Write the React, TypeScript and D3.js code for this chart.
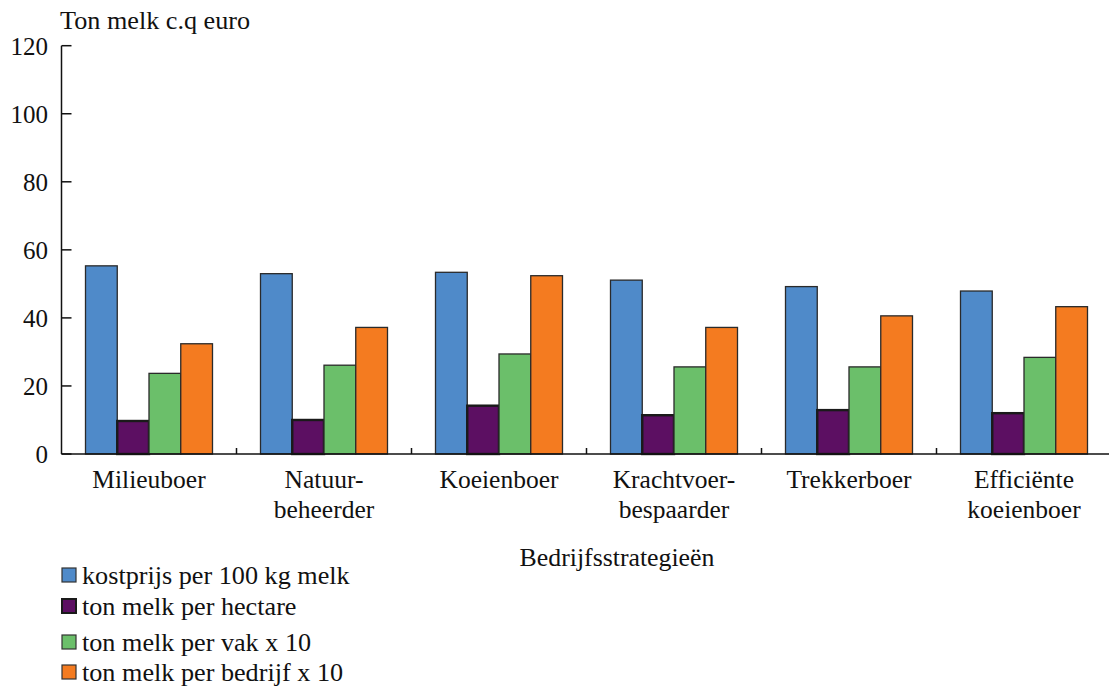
import React from "react";
import * as d3 from "d3";

// Bedrijfsstrategieën en hun kengetallen
const categories: string[][] = [
  ["Milieuboer"],
  ["Natuur-", "beheerder"],
  ["Koeienboer"],
  ["Krachtvoer-", "bespaarder"],
  ["Trekkerboer"],
  ["Efficiënte", "koeienboer"],
];

const seriesNames = [
  "kostprijs per 100 kg melk",
  "ton melk per hectare",
  "ton melk per vak x 10",
  "ton melk per bedrijf x 10",
];

const kostprijs = [55.3, 53.0, 53.4, 51.1, 49.2, 47.9];
const tonPerHectare = [9.7, 10.0, 14.2, 11.4, 12.9, 12.0];
const tonPerVak = [23.7, 26.1, 29.4, 25.6, 25.6, 28.4];
const tonPerBedrijf = [32.4, 37.2, 52.4, 37.2, 40.6, 43.3];

const yTicks = [0, 20, 40, 60, 80, 100, 120];

const colors = ["#4f8ac9", "#5c0f62", "#6bbf6a", "#f47b20"];

const W = 1109;
const H = 689;
const FONT =
  '"Liberation Serif", "DejaVu Serif", "Noto Serif", "FreeSerif", "Nimbus Roman", "Times New Roman", Times, serif';

export default function App() {
  const series = [kostprijs, tonPerHectare, tonPerVak, tonPerBedrijf];
  const x0 = 61.5;
  const bandW = 175;

  const x = d3
    .scaleBand<number>()
    .domain(d3.range(categories.length))
    .range([x0, x0 + bandW * categories.length])
    .paddingInner(0)
    .paddingOuter(0);

  const xInner = d3
    .scaleBand<number>()
    .domain(d3.range(series.length))
    .range([24, bandW - 24])
    .padding(0);

  const y = d3.scaleLinear().domain([0, 120]).range([454, 45.7]);

  return (
    <svg
      width={W}
      height={H}
      style={{ position: "absolute", left: 0, top: 0, background: "#fff", fontFamily: FONT }}
    >
      {/* titel van de y-as */}
      <text x={60} y={29} fontSize={26.2} fill="#111">
        Ton melk c.q euro
      </text>

      {/* staven */}
      {categories.map((_, ci) => (
        <g key={ci} transform={`translate(${x(ci)},0)`}>
          {series.map((vals, si) => {
            const v = vals[ci];
            const isPurple = si === 1;
            return (
              <rect
                key={si}
                x={xInner(si)}
                y={y(v)}
                width={xInner.bandwidth()}
                height={y(0) - y(v)}
                fill={colors[si]}
                stroke={isPurple ? "#1a1a1a" : "#2a2a2a"}
                strokeWidth={isPurple ? 2.4 : 1.3}
              />
            );
          })}
        </g>
      ))}

      {/* y-as */}
      <line x1={x0} x2={x0} y1={y(120)} y2={y(0)} stroke="#111" strokeWidth={1.5} />
      {yTicks.map((t) => (
        <g key={t}>
          <line x1={x0} x2={x0 + 10} y1={y(t)} y2={y(t)} stroke="#111" strokeWidth={1.5} />
          <text x={48} y={y(t) + 9} fontSize={25} textAnchor="end" fill="#111">
            {t}
          </text>
        </g>
      ))}

      {/* x-as */}
      <line x1={x0} x2={W} y1={y(0)} y2={y(0)} stroke="#111" strokeWidth={1.5} />
      {categories.slice(1).map((_, i) => {
        const bx = x(i + 1)!;
        return (
          <line key={i} x1={bx} x2={bx} y1={y(0)} y2={y(0) - 6} stroke="#111" strokeWidth={1.5} />
        );
      })}

      {/* categorielabels */}
      {categories.map((lines, ci) => (
        <text
          key={ci}
          x={x(ci)! + x.bandwidth() / 2}
          y={488}
          fontSize={25.5}
          textAnchor="middle"
          fill="#111"
        >
          {lines.map((l, li) => (
            <tspan key={li} x={x(ci)! + x.bandwidth() / 2} dy={li === 0 ? 0 : 29.5}>
              {l}
            </tspan>
          ))}
        </text>
      ))}

      {/* titel van de x-as */}
      <text x={617} y={566} fontSize={25.8} textAnchor="middle" fill="#111">
        Bedrijfsstrategieën
      </text>

      {/* legenda */}
      {seriesNames.map((name, i) => {
        const baselines = [584, 615, 651, 681];
        const by = baselines[i];
        return (
          <g key={name}>
            <rect
              x={62}
              y={by - 16}
              width={14}
              height={14}
              fill={colors[i]}
              stroke={i === 1 ? "#1a1a1a" : "#333"}
              strokeWidth={i === 1 ? 2 : 1.2}
            />
            <text x={82} y={by} fontSize={26.2} fill="#111">
              {name}
            </text>
          </g>
        );
      })}
    </svg>
  );
}
